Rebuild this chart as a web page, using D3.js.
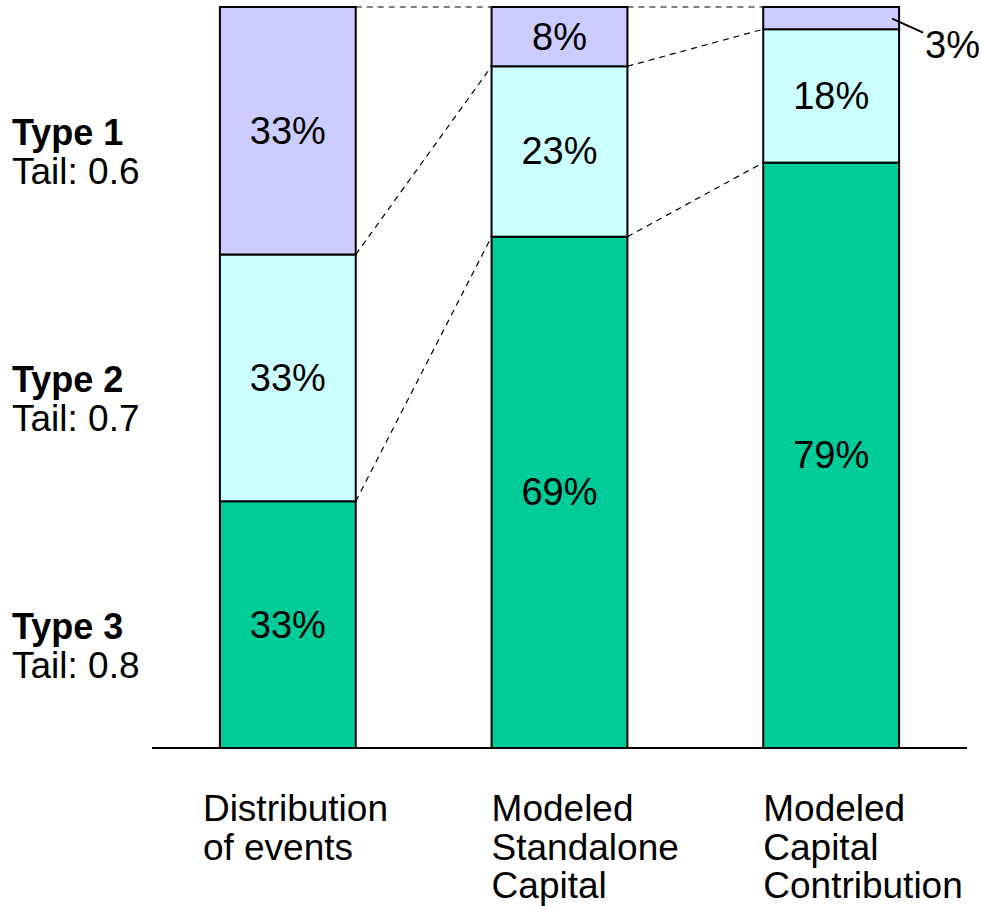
<!DOCTYPE html>
<html>
<head>
<meta charset="utf-8">
<script src="https://cdn.jsdelivr.net/npm/d3@7"></script>
<style>
  body { margin: 0; background: #fff; }
  svg text { font-family: "Liberation Sans", Arial, sans-serif; fill: #000; }
</style>
</head>
<body>
<div id="chart"></div>
<script>
// 数据
const categories = ['Distribution of events', 'Modeled Standalone Capital', 'Modeled Capital Contribution'];
const categoryLines = [['Distribution', 'of events'], ['Modeled', 'Standalone', 'Capital'], ['Modeled', 'Capital', 'Contribution']];
const types = ['Type 3', 'Type 2', 'Type 1'];          // 自下而上
const tails = ['Tail: 0.8', 'Tail: 0.7', 'Tail: 0.6'];
const type3Values = [33.3, 69, 79];
const type2Values = [33.3, 23, 18];
const type1Values = [33.4, 8, 3];
const valueLabels = [['33%', '33%', '33%'], ['69%', '23%', '8%'], ['79%', '18%', '3%']];
const colors = ['#00cc99', '#ccffff', '#ccccff'];

const width = 981, height = 906;
const svg = d3.select('#chart').append('svg')
  .attr('width', width)
  .attr('height', height);

// 比例尺
const x = d3.scaleBand().domain(categories).range([152, 967]).paddingInner(0.5).paddingOuter(0.25);
const y = d3.scaleLinear().domain([0, 100]).range([748, 7]);

// 堆叠
const rows = categories.map((c, i) => ({ cat: c, t3: type3Values[i], t2: type2Values[i], t1: type1Values[i] }));
const series = d3.stack().keys(['t3', 't2', 't1'])(rows);

// 虚线连接
const connectors = svg.append('g');
for (let i = 0; i < categories.length - 1; i++) {
  const x0 = x(categories[i]) + x.bandwidth();
  const x1 = x(categories[i + 1]);
  series.forEach(s => {
    connectors.append('line')
      .attr('x1', x0).attr('y1', y(s[i][1]))
      .attr('x2', x1).attr('y2', y(s[i + 1][1]))
      .attr('stroke', '#000')
      .attr('stroke-width', 1.2)
      .attr('stroke-dasharray', '6,5');
  });
}

// 柱子
series.forEach((s, k) => {
  svg.append('g').selectAll('rect')
    .data(s)
    .enter()
    .append('rect')
    .attr('x', d => x(d.data.cat))
    .attr('y', d => y(d[1]))
    .attr('width', x.bandwidth())
    .attr('height', d => y(d[0]) - y(d[1]))
    .attr('fill', colors[k])
    .attr('stroke', '#000')
    .attr('stroke-width', 2);
});

// 百分比标签
series.forEach((s, k) => {
  s.forEach((d, i) => {
    const label = valueLabels[i][k];
    const tooSmall = y(d[0]) - y(d[1]) < 40;
    if (tooSmall) {
      const rx = x(d.data.cat) + x.bandwidth();
      const ym = y((d[0] + d[1]) / 2);
      svg.append('line')
        .attr('x1', rx - 7).attr('y1', ym + 0.5)
        .attr('x2', rx + 24).attr('y2', ym + 14.5)
        .attr('stroke', '#000')
        .attr('stroke-width', 2);
      svg.append('text')
        .attr('x', rx + 26)
        .attr('y', ym + 40)
        .style('font-size', '38px')
        .text(label);
    } else {
      svg.append('text')
        .attr('x', x(d.data.cat) + x.bandwidth() / 2)
        .attr('y', y((d[0] + d[1]) / 2))
        .attr('dy', '0.34em')
        .attr('text-anchor', 'middle')
        .style('font-size', '38px')
        .text(label);
    }
  });
});

// 左侧类型标签
series.forEach((s, k) => {
  const cy = y((s[0][0] + s[0][1]) / 2);
  svg.append('text')
    .attr('x', 12)
    .attr('y', cy + 14)
    .style('font-size', '36px')
    .style('font-weight', 'bold')
    .text(types[k]);
  svg.append('text')
    .attr('x', 12)
    .attr('y', cy + 53)
    .style('font-size', '37px')
    .text(tails[k]);
});

// 基线
svg.append('line')
  .attr('x1', 152).attr('x2', 967)
  .attr('y1', y(0)).attr('y2', y(0))
  .attr('stroke', '#000')
  .attr('stroke-width', 2);

// 类别标签
const labelShift = [-17, 0, 0];
categoryLines.forEach((lines, i) => {
  const t = svg.append('text')
    .attr('x', x(categories[i]) + labelShift[i])
    .attr('y', 821)
    .style('font-size', '37px');
  lines.forEach((ln, j) => {
    t.append('tspan')
      .attr('x', x(categories[i]) + labelShift[i])
      .attr('y', 821 + j * 38.5)
      .text(ln);
  });
});
</script>
</body>
</html>
